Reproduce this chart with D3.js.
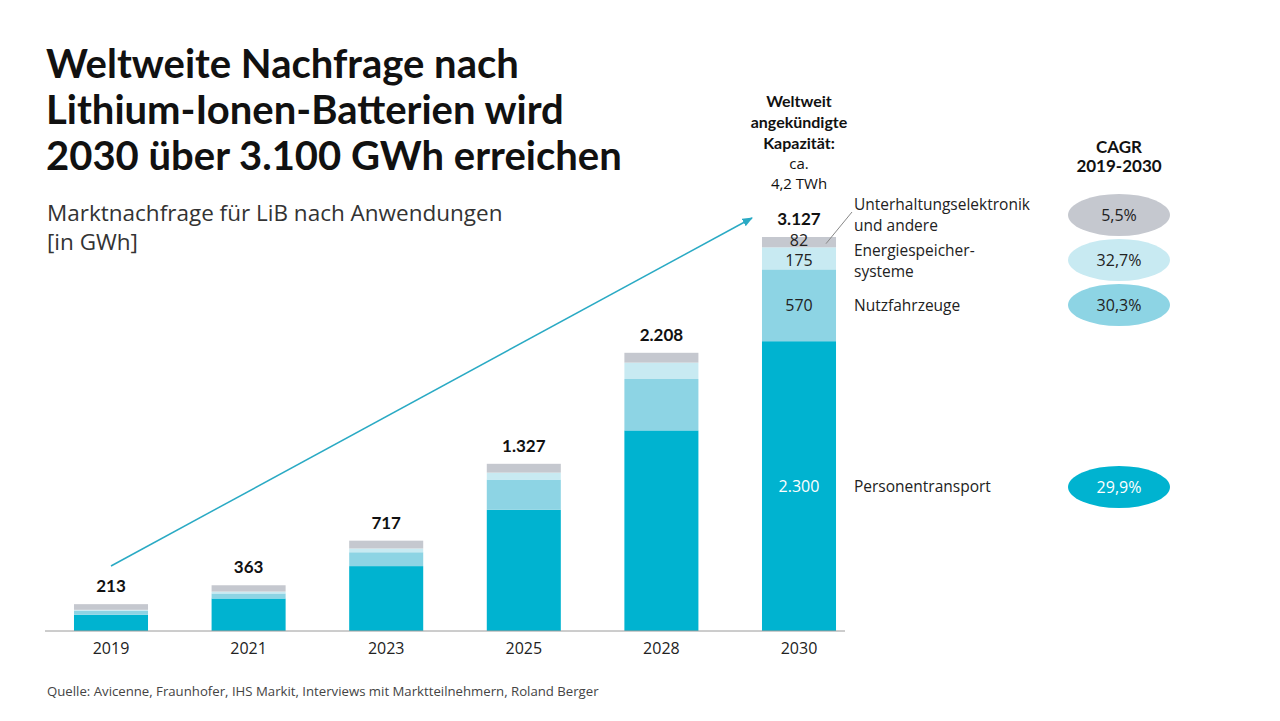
<!DOCTYPE html>
<html>
<head>
<meta charset="utf-8">
<script src="https://cdn.jsdelivr.net/npm/d3@7"></script>
<style>
  body { margin: 0; background: #fff; }
  svg text { font-family: "Open Sans", "Noto Sans", sans-serif; }
  svg text.b { font-family: Lato, "Noto Sans", sans-serif; font-weight: 700; }
</style>
</head>
<body>
<div id="chart"></div>
<script>
// data (GWh)
var years = ["2019", "2021", "2023", "2025", "2028", "2030"];
var personen = [129, 258, 515, 962, 1592, 2300];
var nutz = [31, 40, 110, 240, 408, 570];
var energie = [8, 15, 30, 55, 130, 175];
var unterhaltung = [45, 50, 62, 70, 78, 82];
var totals = ["213", "363", "717", "1.327", "2.208", "3.127"];

var seriesKeys = ["personen", "nutz", "energie", "unterhaltung"];
var seriesNames = ["Personentransport", "Nutzfahrzeuge", "Energiespeicher-\nsysteme", "Unterhaltungselektronik\nund andere"];
var seriesLabels2030 = ["2.300", "570", "175", "82"];
var cagr = ["29,9%", "30,3%", "32,7%", "5,5%"];
var colors = ["#00b3d0", "#8dd4e4", "#c8eaf2", "#c5c8cf"];

var width = 1280, height = 721;
var svg = d3.select("#chart").append("svg")
    .attr("width", width)
    .attr("height", height);

// table for the stack
var table = years.map(function (y, i) {
    return { year: y, personen: personen[i], nutz: nutz[i], energie: energie[i], unterhaltung: unterhaltung[i] };
});
var stacked = d3.stack().keys(seriesKeys)(table);

// scales
var x = d3.scaleBand()
    .domain(years)
    .range([42.2, 867.8])
    .paddingInner(0.462)
    .paddingOuter(0.231);

var y = d3.scaleLinear()
    .domain([0, 3127])
    .range([631, 237]);

// title
var title = ["Weltweite Nachfrage nach", "Lithium-Ionen-Batterien wird", "2030 über 3.100 GWh erreichen"];
svg.append("g").selectAll("text")
    .data(title)
    .enter().append("text")
    .attr("class", "b")
    .attr("x", 46)
    .attr("y", (d, i) => 78 + i * 46)
    .style("font-size", "40px")
    .style("fill", "#111")
    .text(d => d);

svg.append("g").selectAll("text")
    .data(["Marktnachfrage für LiB nach Anwendungen", "[in GWh]"])
    .enter().append("text")
    .attr("x", 47)
    .attr("y", (d, i) => 221 + i * 29)
    .style("font-size", "22.5px")
    .style("fill", "#333")
    .text(d => d);

// bars
svg.append("g").selectAll("g")
    .data(stacked)
    .enter().append("g")
    .attr("fill", (d, i) => colors[i])
    .selectAll("rect")
    .data(d => d)
    .enter().append("rect")
    .attr("x", d => x(d.data.year))
    .attr("y", d => y(d[1]))
    .attr("width", x.bandwidth())
    .attr("height", d => y(d[0]) - y(d[1]));

// x axis
var xAxis = d3.axisBottom(x).tickSize(0).tickPadding(12);
var axisG = svg.append("g")
    .attr("transform", "translate(0," + y(0) + ")")
    .call(xAxis);
axisG.select(".domain").remove();
axisG.selectAll("text")
    .style("font-size", "16px")
    .style("font-family", "'Open Sans', sans-serif")
    .style("fill", "#222");
svg.append("line")
    .attr("x1", 45).attr("x2", 845)
    .attr("y1", y(0)).attr("y2", y(0))
    .attr("stroke", "#9a9a9a")
    .attr("stroke-width", 1);

// totals
var topVals = stacked[stacked.length - 1];
svg.append("g").selectAll("text")
    .data(topVals)
    .enter().append("text")
    .attr("class", "b")
    .attr("x", d => x(d.data.year) + x.bandwidth() / 2)
    .attr("y", d => y(d[1]) - 12)
    .attr("text-anchor", "middle")
    .style("font-size", "17px")
    .style("fill", "#111")
    .text((d, i) => totals[i]);

// segment labels in the 2030 bar
var last = years.length - 1;
var segY = [(y(stacked[0][last][0]) + y(stacked[0][last][1])) / 2,
            (y(stacked[1][last][0]) + y(stacked[1][last][1])) / 2,
            (y(stacked[2][last][0]) + y(stacked[2][last][1])) / 2 + 2.5,
            (y(stacked[3][last][0]) + y(stacked[3][last][1])) / 2 - 1.5];
svg.append("g").selectAll("text")
    .data(seriesLabels2030)
    .enter().append("text")
    .attr("x", x("2030") + x.bandwidth() / 2)
    .attr("y", (d, i) => segY[i])
    .attr("dy", "0.35em")
    .attr("text-anchor", "middle")
    .style("font-size", "16px")
    .style("fill", (d, i) => i == 0 ? "#fff" : "#222")
    .text(d => d);

// legend labels to the right of the last bar
var legY = [segY[0], segY[1], 251, 205];
var legend = svg.append("g").selectAll("text")
    .data(seriesNames)
    .enter().append("text")
    .attr("x", 854)
    .attr("y", (d, i) => legY[i])
    .style("font-size", "15.5px")
    .style("fill", "#222");
legend.each(function (d) {
    var lines = d.split("\n");
    var t = d3.select(this);
    lines.forEach(function (l, j) {
        t.append("tspan")
            .attr("x", 854)
            .attr("dy", j == 0 ? "0.35em" : "1.33em")
            .text(l);
    });
});

// leader line for the grey segment
svg.append("line")
    .attr("x1", x("2030") + x.bandwidth() - 10).attr("y1", segY[3] + 3)
    .attr("x2", 852).attr("y2", 212)
    .attr("stroke", "#888")
    .attr("stroke-width", 1);

// CAGR column
svg.append("g").selectAll("text")
    .data(["CAGR", "2019-2030"])
    .enter().append("text")
    .attr("class", "b")
    .attr("x", 1119)
    .attr("y", (d, i) => 153 + i * 19)
    .attr("text-anchor", "middle")
    .style("font-size", "17px")
    .style("fill", "#111")
    .text(d => d);

var cagrY = [487, 305, 260, 215];
var pills = svg.append("g").selectAll("g")
    .data(cagr)
    .enter().append("g")
    .attr("transform", (d, i) => "translate(1119," + cagrY[i] + ")");
pills.append("ellipse")
    .attr("rx", 51)
    .attr("ry", 21)
    .attr("fill", (d, i) => colors[i]);
pills.append("text")
    .attr("dy", "0.35em")
    .attr("text-anchor", "middle")
    .style("font-size", "16px")
    .style("fill", (d, i) => i == 0 ? "#fff" : "#222")
    .text(d => d);

// announced capacity note
var note = [["Weltweit", "b"], ["angekündigte", "b"], ["Kapazität:", "b"], ["ca.", ""], ["4,2 TWh", ""]];
svg.append("g").selectAll("text")
    .data(note)
    .enter().append("text")
    .attr("class", d => d[1])
    .attr("x", 799)
    .attr("y", (d, i) => [107, 128, 149, 169, 189][i])
    .attr("text-anchor", "middle")
    .style("font-size", d => d[1] ? "16px" : "15px")
    .style("fill", "#111")
    .text(d => d[0]);

// growth arrow
svg.append("defs").append("marker")
    .attr("id", "arrow")
    .attr("viewBox", "0 0 10 10")
    .attr("refX", 9).attr("refY", 5)
    .attr("markerWidth", 7).attr("markerHeight", 7)
    .attr("orient", "auto")
    .append("path")
    .attr("d", "M0,1 L10,5 L0,9 z")
    .attr("fill", "#2aaac4");
svg.append("line")
    .attr("x1", x("2019") + x.bandwidth() / 2).attr("y1", 566)
    .attr("x2", 752).attr("y2", 218)
    .attr("stroke", "#2aaac4")
    .attr("stroke-width", 1.5)
    .attr("marker-end", "url(#arrow)");

// source
svg.append("text")
    .attr("x", 47)
    .attr("y", 696)
    .style("font-size", "13.2px")
    .style("fill", "#444")
    .text("Quelle: Avicenne, Fraunhofer, IHS Markit, Interviews mit Marktteilnehmern, Roland Berger");
</script>
</body>
</html>
